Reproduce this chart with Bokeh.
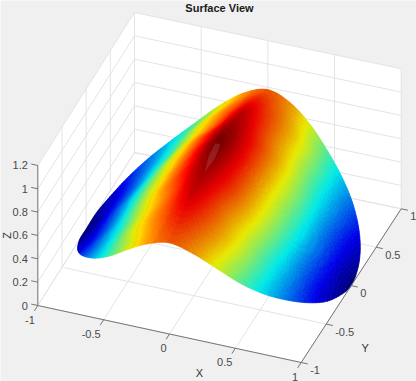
import numpy as np
from bokeh.plotting import figure
from bokeh.models import Range1d
from bokeh.core.properties import value
from bokeh.embed import file_html
from bokeh.resources import INLINE

TITLE = "Surface View"
X_TICKS = [-1, -0.5, 0, 0.5, 1]
Y_TICKS = [-1, -0.5, 0, 0.5, 1]
Z_TICKS = [0, 0.2, 0.4, 0.6, 0.8, 1, 1.2]
X_LABELS = ["-1", "-0.5", "0", "0.5", "1"]
Y_LABELS = ["-1", "-0.5", "0", "0.5", "1"]
Z_LABELS = ["0", "0.2", "0.4", "0.6", "0.8", "1", "1.2"]

# surface height (colour = height): one quadrant of the unit disk,
# angle across (degrees), radius down
GRID_ANGLE = [0, 10, 20, 30, 40, 50, 60, 70, 80, 90]
GRID_R = [0, 0.25, 0.5, 0.75, 1.0]
Z_R000 = [1.00, 1.00, 1.00, 1.00, 1.00, 1.00, 1.00, 1.00, 1.00, 1.00]
Z_R025 = [0.78, 0.785, 0.795, 0.81, 0.83, 0.86, 0.89, 0.92, 0.95, 0.96]
Z_R050 = [0.52, 0.53, 0.555, 0.59, 0.64, 0.69, 0.74, 0.80, 0.87, 0.92]
Z_R075 = [0.235, 0.24, 0.27, 0.33, 0.40, 0.50, 0.615, 0.71, 0.79, 0.85]
Z_R100 = [0.00, 0.03, 0.075, 0.15, 0.24, 0.34, 0.46, 0.60, 0.72, 0.78]

# pale streak on the ridge, surface coordinates
STREAK_X = [0.02, 0.025, 0.008, -0.025, -0.02]
STREAK_Y = [-0.02, -0.14, -0.30, -0.14, -0.02]
STREAK_Z = [0.985, 0.95, 0.93, 0.95, 0.985]

# floor corners on the page, used by the projection
FL, FR, BR, BL = (37.3, 305.0), (300.7, 362.0), (400.7, 208.3), (134.0, 152.0)
Z_SCALE = 116.7


def proj(x, y, z):
    x, y, z = np.asarray(x, float), np.asarray(y, float), np.asarray(z, float)
    u, v = (x + 1) / 2, (y + 1) / 2
    sx = (1-u)*(1-v)*FL[0] + u*(1-v)*FR[0] + u*v*BR[0] + (1-u)*v*BL[0]
    sy = (1-u)*(1-v)*FL[1] + u*(1-v)*FR[1] + u*v*BR[1] + (1-u)*v*BL[1] - Z_SCALE*z
    return sx, sy


def catmull(grid, vals, q):
    grid = np.asarray(grid, float)
    i = np.clip(np.searchsorted(grid, q) - 1, 0, len(grid) - 2)
    t = (q - grid[i]) / (grid[i+1] - grid[i])
    n = len(grid)
    p0 = vals[..., np.clip(i-1, 0, n-1)]
    p1 = vals[..., i]
    p2 = vals[..., i+1]
    p3 = vals[..., np.clip(i+2, 0, n-1)]
    return 0.5*((2*p1) + (-p0+p2)*t + (2*p0-5*p1+4*p2-p3)*t*t + (-p0+3*p1-3*p2+p3)*t*t*t)


half = np.array([Z_R000, Z_R025, Z_R050, Z_R075, Z_R100])
ga = np.array(GRID_ANGLE, float)
# mirror the quadrant beyond 0 and 90 degrees so the sweep stays smooth across them
fa = np.concatenate([-ga[3:0:-1], ga, 180 - ga[-2:-5:-1]])
full = np.concatenate([half[:, 3:0:-1], half, half[:, -2:-5:-1]], axis=1)


def jet(f, k=1.0):
    f = np.clip(f, 0, 1)
    r = np.clip(1.5 - np.abs(4*f - 3), 0, 1)
    g = np.clip(1.5 - np.abs(4*f - 2), 0, 1)
    b = np.clip(1.5 - np.abs(4*f - 1), 0, 1)
    return "#%02x%02x%02x" % (int(r*255*k), int(g*255*k), int(b*255*k))


p = figure(width=416, height=381, toolbar_location=None, output_backend="svg",
           x_range=Range1d(0, 416), y_range=Range1d(381, 0), min_border=0,
           background_fill_color="#f0f0f0", border_fill_color="#f0f0f0",
           outline_line_color=None)
p.axis.visible = False
p.grid.visible = False

FONT = value("Liberation Sans")
TICK = "#4a4a4a"
AX = "#767676"
GRID = "#e4e4e4"
ZTOP = Z_TICKS[-1]

# white box: floor and the two back walls
ox, oy = proj([-1, -1, 1, 1, 1, -1], [-1, 1, 1, 1, -1, -1], [ZTOP, ZTOP, ZTOP, 0, 0, 0])
p.patch(list(ox), list(oy), fill_color="white", line_color=None)

# grid lines
segs_x, segs_y = [], []
for t in X_TICKS:
    a = proj([t, t, t], [-1, 1, 1], [0, 0, ZTOP])
    segs_x.append(list(a[0])); segs_y.append(list(a[1]))
for t in Y_TICKS:
    a = proj([1, -1, -1], [t, t, t], [0, 0, ZTOP])
    segs_x.append(list(a[0])); segs_y.append(list(a[1]))
for t in Z_TICKS:
    a = proj([-1, -1, 1], [-1, 1, 1], [t, t, t])
    segs_x.append(list(a[0])); segs_y.append(list(a[1]))
p.multi_line(segs_x, segs_y, line_color=GRID, line_width=1)

# surface on the unit disk
nr, nt = 90, 300
rr = np.linspace(0, 1, nr + 1)
tt = np.linspace(0, 360, nt + 1)
R, T = np.meshgrid(rr, tt, indexing="ij")
MX, MY = R*np.cos(np.radians(T)), R*np.sin(np.radians(T))
# fold every angle into the read quadrant
fold = np.abs(((T + 90) % 180) - 90)
MZ = np.zeros_like(MX)
for j in range(MX.shape[1]):
    col = catmull(fa, full, np.array([fold[0, j]]))[:, 0]
    for i in range(MX.shape[0]):
        MZ[i, j] = catmull(GRID_R, col, np.array([R[i, j]]))[0]
SX, SY = proj(MX, MY, MZ)
ZC = 0.25*(MZ[:-1, :-1] + MZ[1:, :-1] + MZ[:-1, 1:] + MZ[1:, 1:])
XC = 0.25*(MX[:-1, :-1] + MX[1:, :-1] + MX[:-1, 1:] + MX[1:, 1:])
LEVELS = 64
lev = np.clip((ZC*LEVELS).astype(int), 0, LEVELS-1)
# light falls on the -x side of the ridge: slightly duller colours elsewhere
SHADES = [0.92, 0.96, 1.0]
sh = np.where((ZC > 0.65) & (XC < -0.02), np.where(XC < -0.12, 2, 1), 0)
mxs, mys, cols = [], [], []
for L in range(LEVELS):
    for s, k in enumerate(SHADES):
        idx = np.argwhere((lev == L) & (sh == s))
        if len(idx) == 0:
            continue
        xs, ys = [], []
        for i, j in idx:
            xs.append([[float(SX[i, j]), float(SX[i+1, j]), float(SX[i+1, j+1]), float(SX[i, j+1])]])
            ys.append([[float(SY[i, j]), float(SY[i+1, j]), float(SY[i+1, j+1]), float(SY[i, j+1])]])
        mxs.append(xs); mys.append(ys); cols.append(jet((L+0.5)/LEVELS, k))
p.multi_polygons(mxs, mys, fill_color=cols, line_color=cols, line_width=0.7)

sx, sy = proj(STREAK_X, STREAK_Y, STREAK_Z)
p.patch(list(sx), list(sy), fill_color="#d09090", fill_alpha=0.2, line_color=None)

# axes
a = proj([-1, 1, 1], [-1, -1, 1], [0, 0, 0])
p.line(list(a[0]), list(a[1]), line_color=AX, line_width=1)
a = proj([-1, -1], [-1, -1], [0, ZTOP])
p.line(list(a[0]), list(a[1]), line_color=AX, line_width=1)

tx, ty = [], []
for t in X_TICKS:
    a = proj([t, t], [-1, -1.07], [0, 0]); tx.append(list(a[0])); ty.append(list(a[1]))
for t in Y_TICKS:
    a = proj([1, 1.05], [t, t], [0, 0]); tx.append(list(a[0])); ty.append(list(a[1]))
for t in Z_TICKS:
    a = proj([-1, -1.05], [-1, -1], [t, t]); tx.append(list(a[0])); ty.append(list(a[1]))
p.multi_line(tx, ty, line_color=AX, line_width=1)

fs = "11px"
lx, ly = proj(X_TICKS, [-1]*5, [0]*5)
p.text(list(lx), list(ly), text=X_LABELS, x_offset=-3, y_offset=14, text_align="right",
       text_baseline="middle", text_font=FONT, text_font_size=fs, text_color=TICK)
lx, ly = proj([1]*5, Y_TICKS, [0]*5)
p.text(list(lx), list(ly), text=Y_LABELS, x_offset=9, y_offset=7.5, text_align="left",
       text_baseline="middle", text_font=FONT, text_font_size=fs, text_color=TICK)
lx, ly = proj([-1]*7, [-1]*7, Z_TICKS)
p.text(list(lx), list(ly), text=Z_LABELS, x_offset=-10, y_offset=0, text_align="right",
       text_baseline="middle", text_font=FONT, text_font_size=fs, text_color=TICK)

lab = dict(text_font=FONT, text_font_size="11px", text_color="#333333",
           text_align="center", text_baseline="middle")
mx, my = proj([0], [-1], [0])
p.text(mx + 30, my + 39, text=["X"], **lab)
mx, my = proj([1], [0], [0])
p.text(mx + 14, my + 62, text=["Y"], **lab)
mx, my = proj([-1], [-1], [0.6])
p.text(mx - 31, my, text=["Z"], angle=np.pi/2, **lab)
p.text([219], [7], text=[TITLE], text_font=FONT, text_font_size="11px", text_font_style="bold",
       text_color="#1a1a1a", text_align="center", text_baseline="middle")

open("out.html", "w").write(file_html(p, INLINE))
